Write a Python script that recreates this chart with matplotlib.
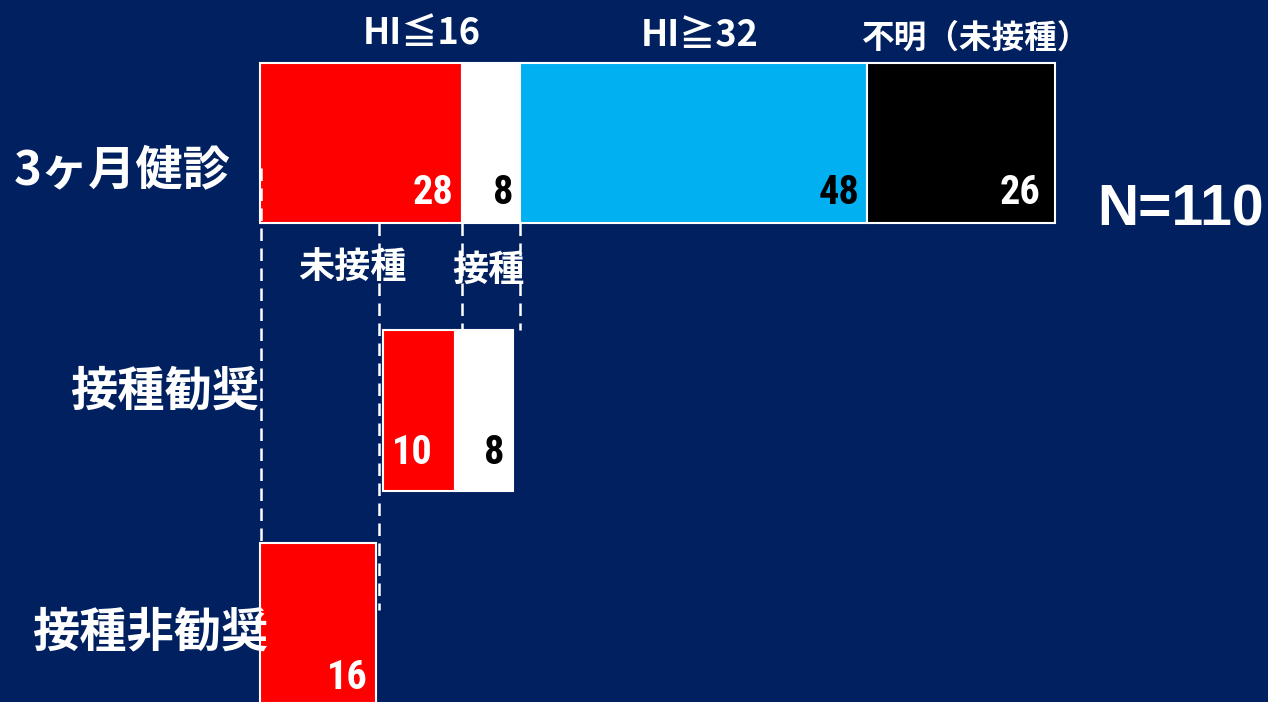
import matplotlib
matplotlib.use("Agg")
import matplotlib.pyplot as plt
from matplotlib import font_manager

# ---------------- data ----------------
rows = ["3ヶ月健診", "接種勧奨", "接種非勧奨"]
row1_values = [28, 8, 48, 26]          # HI<=16 未接種 / HI<=16 接種 / HI>=32 / 不明
row1_colors = ["#FF0000", "#FFFFFF", "#00B0F0", "#000000"]
row1_text_colors = ["white", "black", "black", "white"]
row2_values = [10, 8]                  # 未接種 / 接種
row2_colors = ["#FF0000", "#FFFFFF"]
row2_text_colors = ["white", "black"]
row3_values = [16]
row3_colors = ["#FF0000"]
row3_text_colors = ["white"]
top_labels = ["HI≦16", "HI≧32", "不明（未接種）"]
sub_labels = ["未接種", "接種"]
total_label = "N=110"

# ---------------- layout ----------------
W, H, DPI = 1268, 702, 100
BG = "#002060"
PX = 7.227            # pixels per unit
X0 = 260              # pixel of value 0
row_y = [143, 410.5, 623]
row_h = [160, 161, 160]
row2_left = 17

names = set(font_manager.get_font_names())
num_font = None
for cand in ["Liberation Sans Narrow", "DejaVu Sans Condensed", "Roboto Condensed",
             "Open Sans Condensed", "Roboto"]:
    if cand in names:
        num_font = [cand]
        break
if num_font is None:
    num_font = ["Noto Sans CJK JP"]
jp = ["Noto Sans CJK JP", "DejaVu Sans"]
plt.rcParams["font.family"] = jp

fig = plt.figure(figsize=(W / DPI, H / DPI), dpi=DPI, facecolor=BG)
ax = fig.add_axes([0, 0, 1, 1])
ax.set_facecolor(BG)
ax.set_xlim(-X0 / PX, (W - X0) / PX)
ax.set_ylim(H, 0)
ax.axis("off")

def draw_row(values, colors, tcolors, y, h, left0, pads, dy):
    left = left0
    for v, c, tc, pad in zip(values, colors, tcolors, pads):
        ax.barh(y, v, left=left, height=h, color=c, edgecolor="white",
                linewidth=1.5, zorder=2)
        ax.annotate(str(v), xy=(left + v, y + dy), xytext=(-pad * 0.72, 0),
                    textcoords="offset points", ha="right", va="center",
                    color=tc, fontsize=29, fontweight="bold",
                    family=num_font, zorder=5)
        left += v

draw_row(row1_values, row1_colors, row1_text_colors, row_y[0], row_h[0], 0,
         [9, 7, 8, 15], 50)
draw_row(row2_values, row2_colors, row2_text_colors, row_y[1], row_h[1], row2_left,
         [22, 8], 43)
draw_row(row3_values, row3_colors, row3_text_colors, row_y[2], row_h[2], 0,
         [8], 55)

# dashed connector lines
c1 = [0, row1_values[0], row1_values[0] + row1_values[1]]
dash_kw = dict(color="white", linewidth=1.8, linestyle=(0, (5, 3)), zorder=4)
ax.plot([0.2, 0.2], [168, 543], **dash_kw)
ax.plot([16.5, 16.5], [223, 610], **dash_kw)
ax.plot([c1[1], c1[1]], [223, 330], **dash_kw)
ax.plot([c1[2], c1[2]], [223, 330], **dash_kw)

# row labels
def px_text(x, y, s, **kw):
    ax.text((x - X0) / PX, y, s, **kw)

lab_kw = dict(color="white", fontsize=34, fontweight="bold", va="center", ha="left")
px_text(14, 170, rows[0], **lab_kw)
px_text(70, 392, rows[1], **lab_kw)
px_text(32, 632, rows[2], **lab_kw)

top_kw = dict(color="white", fontweight="bold", va="center", ha="center")
px_text(422, 33, top_labels[0], fontsize=26, **top_kw)
px_text(700, 36, top_labels[1], fontsize=26, **top_kw)
px_text(976, 38, top_labels[2], fontsize=23.5, **top_kw)

px_text(352, 268, sub_labels[0], fontsize=26, **top_kw)
px_text(488, 270, sub_labels[1], fontsize=26, **top_kw)

px_text(1181, 211, total_label, fontsize=41, family=["Liberation Sans", "DejaVu Sans"],
        **top_kw)

fig.savefig("out.png", dpi=DPI, facecolor=BG)
